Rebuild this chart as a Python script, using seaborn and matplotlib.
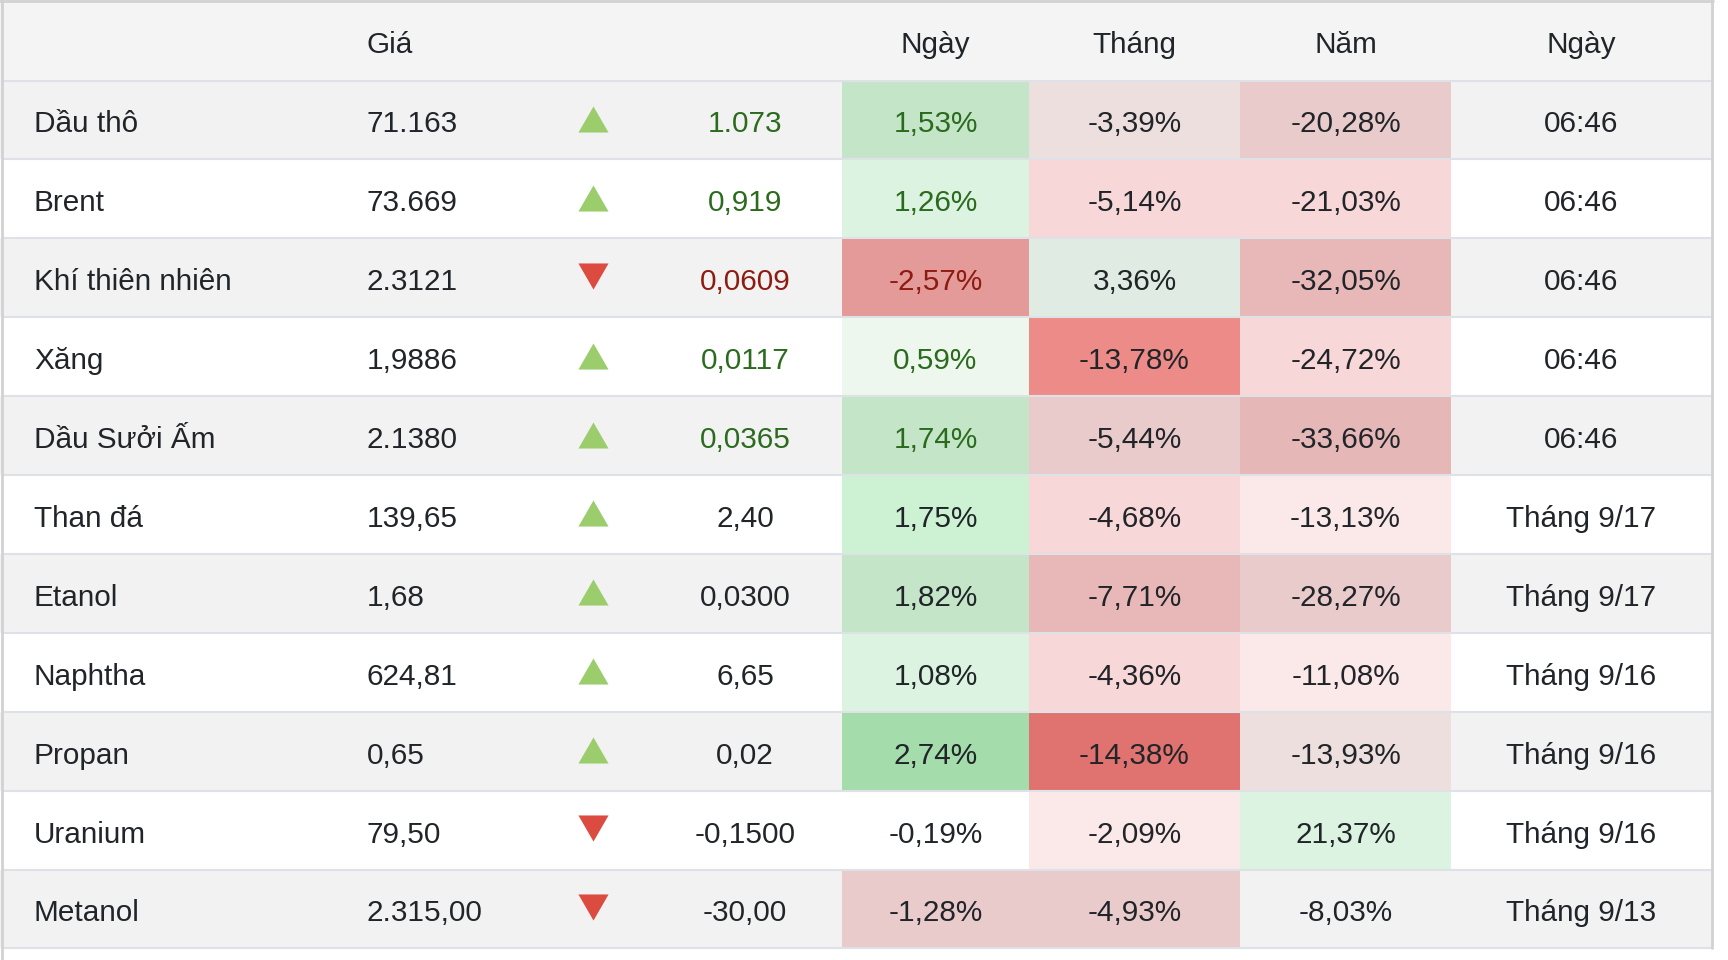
import numpy as np
import matplotlib
matplotlib.use("Agg")
import matplotlib.pyplot as plt
from matplotlib.colors import ListedColormap
import seaborn as sns

names = ["Dầu thô", "Brent", "Khí thiên nhiên", "Xăng", "Dầu Sưởi Ấm", "Than đá",
         "Etanol", "Naphtha", "Propan", "Uranium", "Metanol"]
prices = ["71.163", "73.669", "2.3121", "1,9886", "2.1380", "139,65",
          "1,68", "624,81", "0,65", "79,50", "2.315,00"]
changes = ["1.073", "0,919", "0,0609", "0,0117", "0,0365", "2,40",
           "0,0300", "6,65", "0,02", "-0,1500", "-30,00"]
is_up = [True, True, False, True, True, True, True, True, True, False, False]
day_pct = [1.53, 1.26, -2.57, 0.59, 1.74, 1.75, 1.82, 1.08, 2.74, -0.19, -1.28]
month_pct = [-3.39, -5.14, 3.36, -13.78, -5.44, -4.68, -7.71, -4.36, -14.38, -2.09, -4.93]
year_pct = [-20.28, -21.03, -32.05, -24.72, -33.66, -13.13, -28.27, -11.08, -13.93, 21.37, -8.03]
times = ["06:46"] * 5 + ["Tháng 9/17", "Tháng 9/17", "Tháng 9/16", "Tháng 9/16",
                         "Tháng 9/16", "Tháng 9/13"]
headers = ["Giá", "Ngày", "Tháng", "Năm", "Ngày"]

# live-quote rows get coloured change text
live = [True, True, True, True, True, False, False, False, False, False, False]

# --- cell shading (style) ---
day_colors = ["#c4e5c8", "#dbf3e0", "#e39a98", "#edf7ee", "#c4e5c8", "#cdf2d3",
              "#c4e5c8", "#dbf3e0", "#a4dcab", None, "#e9cbcc"]
month_colors = ["#eedfdf", "#f7d7d8", "#e0ece3", "#ec8b88", "#e9cbcc", "#f7d7d8",
                "#e8b8b8", "#f7d7d8", "#e07370", "#fbe9e9", "#e9cbcc"]
year_colors = ["#e9cbcc", "#f7d7d8", "#e8b8b8", "#f7d7d8", "#e6b7b7", "#fbe9e9",
               "#e9cbcc", "#fbe9e9", "#eedfdf", "#dbf3e0", None]

W, H = 1728, 960
HEAD = 80.5
ROW_H = 78.9
n = len(names)
TOP_Y = HEAD
BOT_Y = HEAD + n * ROW_H
RIGHT = 1712

TXT = "#212529"
GREEN = "#2b6b1d"
RED = "#8e1b12"
FS = 21.4

sns.set_theme(style="white")
plt.rcParams["font.family"] = ["Liberation Sans", "DejaVu Sans"]

fig = plt.figure(figsize=(W / 100, H / 100), dpi=100)
fig.patch.set_facecolor("white")

# background: header + striped rows
bg = fig.add_axes([0, 0, 1, 1])
bg.set_xlim(0, W)
bg.set_ylim(H, 0)
bg.axis("off")
bg.axhspan(0, HEAD, xmax=RIGHT / W, color="#f4f4f4", lw=0)
for i in range(n):
    if i % 2 == 0:
        bg.axhspan(TOP_Y + i * ROW_H, TOP_Y + (i + 1) * ROW_H, xmax=RIGHT / W,
                   color="#f2f2f2", lw=0)

# percentage columns as one-column heatmaps
def pct_column(x0, x1, colors):
    hax = fig.add_axes([x0 / W, 1 - BOT_Y / H, (x1 - x0) / W, (BOT_Y - TOP_Y) / H])
    data = np.arange(n, dtype=float).reshape(-1, 1)
    mask = np.array([[c is None] for c in colors])
    cmap = ListedColormap([c if c is not None else "white" for c in colors])
    sns.heatmap(data, mask=mask, cmap=cmap, vmin=-0.5, vmax=n - 0.5, cbar=False,
                xticklabels=False, yticklabels=False, ax=hax)
    hax.axis("off")
    hax.patch.set_alpha(0)

col_edges = [842, 1029, 1240, 1451]
pct_column(col_edges[0], col_edges[1], day_colors)
pct_column(col_edges[1], col_edges[2], month_colors)
pct_column(col_edges[2], col_edges[3], year_colors)

# overlay: grid lines, text, arrows
ax = fig.add_axes([0, 0, 1, 1])
ax.set_xlim(0, W)
ax.set_ylim(H, 0)
ax.axis("off")
ax.patch.set_alpha(0)

X_NAME, X_PRICE, X_ARROW, X_CHG = 34, 367, 593, 745
X_PCT = [(col_edges[k] + col_edges[k + 1]) / 2 for k in range(3)]
X_TIME = 1581

for i in range(n + 1):
    y = TOP_Y + i * ROW_H
    ax.plot([2, RIGHT], [y, y], color="#dee2e6", lw=1.5, solid_capstyle="butt")
ax.plot([1.5, 1.5], [0, H], color="#d2d2d2", lw=2)
ax.plot([RIGHT, RIGHT], [0, BOT_Y], color="#d2d2d2", lw=2)
ax.plot([0, RIGHT + 1], [1, 1], color="#d2d2d2", lw=2)

def fmt_pct(v):
    return f"{v:.2f}%".replace(".", ",")

def put(x, y, s, ha="left", color=TXT):
    ax.text(x, y + 12.5, s, ha=ha, va="baseline", fontsize=FS, color=color)

hy = HEAD / 2
put(X_PRICE, hy, headers[0])
for x, h in zip(X_PCT + [X_TIME], headers[1:]):
    put(x, hy, h, ha="center")

tri_up = [(-1, -0.866), (1, -0.866), (0, 0.866)]
tri_dn = [(-1, 0.866), (1, 0.866), (0, -0.866)]

for i in range(n):
    yc = TOP_Y + (i + 0.5) * ROW_H
    if live[i]:
        ccol = GREEN if is_up[i] else RED
    else:
        ccol = TXT
    put(X_NAME, yc, names[i])
    put(X_PRICE, yc, prices[i])
    put(X_CHG, yc, changes[i], ha="center", color=ccol)
    put(X_PCT[0], yc, fmt_pct(day_pct[i]), ha="center", color=ccol)
    put(X_PCT[1], yc, fmt_pct(month_pct[i]), ha="center")
    put(X_PCT[2], yc, fmt_pct(year_pct[i]), ha="center")
    put(X_TIME, yc, times[i], ha="center")
    if is_up[i]:
        ax.scatter([X_ARROW], [yc - 1], marker=tri_up, s=470, color="#9ccd6c", lw=0)
    else:
        ax.scatter([X_ARROW], [yc - 2], marker=tri_dn, s=470, color="#dc4b3f", lw=0)

fig.savefig("out.png", dpi=100, facecolor="white")
